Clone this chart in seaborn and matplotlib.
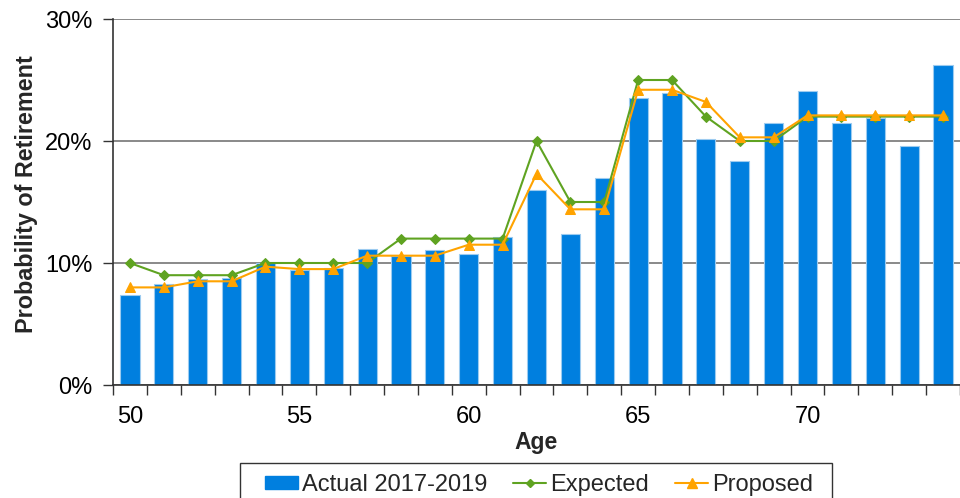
import matplotlib
matplotlib.use("Agg")
import matplotlib.pyplot as plt
import matplotlib.ticker as mticker
from matplotlib.lines import Line2D
from matplotlib.patches import Patch, Rectangle
import numpy as np
import pandas as pd
import seaborn as sns

# Retirement rates by age (percent)
ages = list(range(50, 75))
actual = [7.4, 8.3, 8.7, 8.8, 10.0, 9.4, 9.6, 11.15, 10.6, 11.1, 10.7, 12.1,
          16.0, 12.4, 17.0, 23.5, 23.9, 20.2, 18.35, 21.5, 24.1, 21.5, 21.9,
          19.6, 26.2]
expected = [10, 9, 9, 9, 10, 10, 10, 10, 12, 12, 12, 12, 20, 15, 15, 25, 25,
            22, 20, 20, 22, 22, 22, 22, 22]
proposed = [8.0, 8.0, 8.5, 8.5, 9.7, 9.5, 9.5, 10.6, 10.6, 10.6, 11.5, 11.5,
            17.3, 14.4, 14.4, 24.2, 24.2, 23.2, 20.3, 20.3, 22.1, 22.1, 22.1,
            22.1, 22.1]
xtick_ages = [50, 55, 60, 65, 70]

BAR = "#007FDF"
GREEN = "#5FA321"
ORANGE = "#FFA300"

sns.set_theme(style="white")
plt.rcParams["font.family"] = ["Liberation Sans", "DejaVu Sans"]

df = pd.DataFrame({"Age": [str(a) for a in ages], "Actual": actual,
                   "Expected": expected, "Proposed": proposed,
                   "pos": np.arange(len(ages))})

W, H = 960, 498
fig = plt.figure(figsize=(W / 100, H / 100), dpi=100)
ax = fig.add_axes([113 / W, (H - 385) / H, (W - 113) / W, (385 - 19) / H])

sns.barplot(data=df, x="Age", y="Actual", color=BAR, saturation=1, width=0.565,
            edgecolor="#9CCBF0", linewidth=0.8, ax=ax, zorder=2)
sns.lineplot(data=df, x="pos", y="Expected", color=GREEN, marker="D",
             markersize=5.5, markeredgecolor=GREEN, linewidth=1.5, ax=ax, zorder=4)
sns.lineplot(data=df, x="pos", y="Proposed", color=ORANGE, marker="^",
             markersize=7.5, markeredgecolor=ORANGE, linewidth=1.5, ax=ax, zorder=5)

cat_w = 34.2
ax.set_xlim(-0.5, -0.5 + (W - 113) / cat_w)
ax.set_ylim(0, 30)
ax.set_yticks([0, 10, 20, 30])
ax.yaxis.set_major_formatter(mticker.PercentFormatter(decimals=0))
ax.grid(axis="y", color="#808080", linewidth=1.3, zorder=0)
ax.set_axisbelow(True)

ax.set_xticks([ages.index(a) for a in xtick_ages])
ax.set_xticklabels([str(a) for a in xtick_ages])
ax.set_xticks(np.arange(-0.5, len(ages) + 0.5, 1), minor=True)
ax.tick_params(axis="x", which="major", length=0, pad=15, labelsize=17, colors="black")
ax.tick_params(axis="x", which="minor", length=7, width=1, color="#333333", bottom=True)
ax.tick_params(axis="y", which="major", length=7, width=1, color="#333333", left=True,
               pad=8, labelsize=17, labelcolor="black")

for side in ("top", "right"):
    ax.spines[side].set_visible(False)
for side in ("left", "bottom"):
    ax.spines[side].set_color("#333333")
    ax.spines[side].set_linewidth(1.2)

ax.set_xlabel("Age", fontsize=16.5, fontweight="bold", labelpad=2)
ax.set_ylabel("Probability of Retirement", fontsize=16.8, fontweight="bold")
ax.yaxis.set_label_coords((38 - 113) / (W - 113), (385 - 194) / (385 - 19))

# Legend below the axis, inside a plain black box
handles = [
    Patch(facecolor=BAR, edgecolor=BAR),
    Line2D([], [], color=GREEN, marker="D", markersize=4.5, linewidth=1.5),
    Line2D([], [], color=ORANGE, marker="^", markersize=6.5, linewidth=1.5),
]
leg = fig.legend(handles, ["Actual 2017-2019", "Expected", "Proposed"], ncol=3,
                 loc="upper left", bbox_to_anchor=(265 / W, (H - 474) / H),
                 frameon=False, fontsize=17, borderpad=0, borderaxespad=0,
                 handlelength=1.4, handleheight=0.5, handletextpad=0.17,
                 columnspacing=1.1)
fig.add_artist(Rectangle((240 / W, -0.05), (832 - 240) / W, 0.05 + (H - 463) / H,
                         transform=fig.transFigure, fill=False,
                         edgecolor="#333333", linewidth=1.0))

fig.savefig("out.png", dpi=100)
